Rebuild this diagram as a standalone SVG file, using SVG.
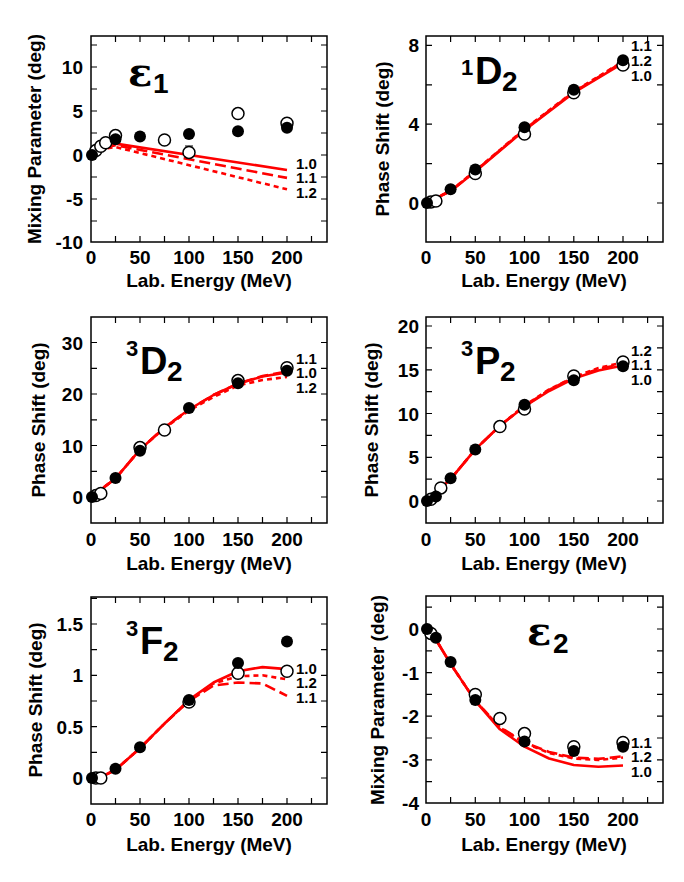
<svg xmlns="http://www.w3.org/2000/svg" width="684" height="882" viewBox="0 0 684 882">
<style>
.fr{fill:none;stroke:#000;stroke-width:1.5}
.tk{fill:none;stroke:#000;stroke-width:1.2}
.c{fill:none;stroke:#f00;stroke-width:2.6;stroke-linejoin:round}
.ld{fill:none;stroke:#f00;stroke-width:2.6;stroke-dasharray:11,5}
.sd{fill:none;stroke:#f00;stroke-width:2.6;stroke-dasharray:5,4}
.o{fill:#fff;stroke:#000;stroke-width:1.5}
.f{fill:#000}
text{font-family:"Liberation Sans",Arial,sans-serif;font-weight:bold;fill:#000}
.tx{font-size:19px;text-anchor:middle}
.ty{font-size:19px;text-anchor:end}
.ax{font-size:19px;text-anchor:middle}
.cl{font-size:15px}
.pl{font-size:38px}
.ps{font-size:22px}
.sb{font-size:28px}
.eps{font-family:"DejaVu Serif","Liberation Serif",serif;font-weight:bold;font-size:40px}
</style>
<rect width="684" height="882" fill="#fff"/>

<g id="panel-eps1">
<rect class="fr" x="91" y="36" width="236" height="206"/>
<path class="tk" d="M115.5,242v-6M140,242v-6M164.5,242v-6M189,242v-6M213.5,242v-6M238,242v-6M262.5,242v-6M287,242v-6M311.5,242v-6M115.5,36v6M140,36v6M164.5,36v6M189,36v6M213.5,36v6M238,36v6M262.5,36v6M287,36v6M311.5,36v6M91,221h6M91,199h6M91,177h6M91,155h6M91,133h6M91,111h6M91,89h6M91,67h6M91,45h6M327,221h-6M327,199h-6M327,177h-6M327,155h-6M327,133h-6M327,111h-6M327,89h-6M327,67h-6M327,45h-6"/>
<g class="tx"><text x="91" y="264">0</text><text x="140" y="264">50</text><text x="189" y="264">100</text><text x="238" y="264">150</text><text x="287" y="264">200</text></g>
<g class="ty"><text x="83" y="74">10</text><text x="83" y="118">5</text><text x="83" y="162">0</text><text x="83" y="206">-5</text><text x="83" y="249">-10</text></g>
<text class="ax" x="209" y="287">Lab. Energy (MeV)</text>
<text class="ax" transform="translate(41,139) rotate(-90)">Mixing Parameter (deg)</text>
<text class="eps" x="128" y="86">ε</text><text class="sb" x="153" y="93">1</text>
<path class="c" d="M91,155L103,147L115.5,143.6L287,170"/>
<path class="ld" d="M91,155L103,148L115.5,145.3L287,177.9"/>
<path class="sd" d="M91,155L103,149L115.5,147L287,189.3"/>
<text class="cl" x="296" y="169">1.0</text><text class="cl" x="296" y="183">1.1</text><text class="cl" x="296" y="198">1.2</text>
<path class="tk" d="M189,146v6M185,146h8"/>
<circle class="o" cx="95.9" cy="150.6" r="6"/><circle class="o" cx="100.8" cy="146.2" r="6"/><circle class="o" cx="105.7" cy="142.7" r="6"/><circle class="o" cx="115.5" cy="135.6" r="6"/><circle class="o" cx="164.5" cy="140" r="6"/><circle class="o" cx="189" cy="152.4" r="6"/><circle class="o" cx="238" cy="113.6" r="6"/><circle class="o" cx="287" cy="123.3" r="6"/>
<circle class="f" cx="92" cy="155" r="6"/><circle class="f" cx="115.5" cy="139.2" r="6"/><circle class="f" cx="140" cy="136.5" r="6"/><circle class="f" cx="189" cy="133.9" r="6"/><circle class="f" cx="238" cy="131.2" r="6"/><circle class="f" cx="287" cy="127.7" r="6"/>
</g>

<g id="panel-1D2">
<rect class="fr" x="426" y="36" width="237" height="206"/>
<path class="tk" d="M450.6,242v-6M475.3,242v-6M499.9,242v-6M524.5,242v-6M549.1,242v-6M573.8,242v-6M598.4,242v-6M623,242v-6M647.6,242v-6M450.6,36v6M475.3,36v6M499.9,36v6M524.5,36v6M549.1,36v6M573.8,36v6M598.4,36v6M623,36v6M647.6,36v6M426,203h6M426,163.6h6M426,124.2h6M426,84.8h6M426,45.4h6M663,203h-6M663,163.6h-6M663,124.2h-6M663,84.8h-6M663,45.4h-6"/>
<g class="tx"><text x="426" y="264">0</text><text x="475.3" y="264">50</text><text x="524.5" y="264">100</text><text x="573.8" y="264">150</text><text x="623" y="264">200</text></g>
<g class="ty"><text x="419" y="52">8</text><text x="419" y="131">4</text><text x="419" y="210">0</text></g>
<text class="ax" x="544" y="287">Lab. Energy (MeV)</text>
<text class="ax" transform="translate(389,139) rotate(-90)">Phase Shift (deg)</text>
<text class="ps" x="461" y="75">1</text><text class="pl" x="475" y="84">D</text><text class="sb" x="502" y="91">2</text>
<path class="c" d="M426,203L450.6,191.2L475.3,171.5L524.5,130.1L573.8,92.7L623,63.1"/>
<path class="ld" d="M426,203L450.6,191L475.3,171L524.5,129.5L573.8,92L623,62"/>
<path class="sd" d="M426,203L450.6,190.8L475.3,170.8L524.5,129L573.8,91.5L623,61.5"/>
<text class="cl" x="631" y="51">1.1</text><text class="cl" x="631" y="66">1.2</text><text class="cl" x="631" y="81">1.0</text>
<circle class="o" cx="430.9" cy="202" r="6"/><circle class="o" cx="435.9" cy="201" r="6"/><circle class="o" cx="475.3" cy="173.5" r="6"/><circle class="o" cx="524.5" cy="134" r="6"/><circle class="o" cx="573.8" cy="92.7" r="6"/><circle class="o" cx="623" cy="65.1" r="6"/>
<circle class="f" cx="427" cy="203" r="6"/><circle class="f" cx="450.6" cy="189.2" r="6"/><circle class="f" cx="475.3" cy="169.5" r="6"/><circle class="f" cx="524.5" cy="127.2" r="6"/><circle class="f" cx="573.8" cy="89.7" r="6"/><circle class="f" cx="623" cy="60.2" r="6"/>
</g>

<g id="panel-3D2">
<rect class="fr" x="91" y="317" width="236" height="206"/>
<path class="tk" d="M115.5,523v-6M140,523v-6M164.5,523v-6M189,523v-6M213.5,523v-6M238,523v-6M262.5,523v-6M287,523v-6M311.5,523v-6M115.5,317v6M140,317v6M164.5,317v6M189,317v6M213.5,317v6M238,317v6M262.5,317v6M287,317v6M311.5,317v6M91,497h6M91,471.3h6M91,445.5h6M91,419.8h6M91,394h6M91,368.3h6M91,342.5h6M327,497h-6M327,471.3h-6M327,445.5h-6M327,419.8h-6M327,394h-6M327,368.3h-6M327,342.5h-6"/>
<g class="tx"><text x="91" y="546">0</text><text x="140" y="546">50</text><text x="189" y="546">100</text><text x="238" y="546">150</text><text x="287" y="546">200</text></g>
<g class="ty"><text x="83" y="350">30</text><text x="83" y="401">20</text><text x="83" y="453">10</text><text x="83" y="504">0</text></g>
<text class="ax" x="209" y="570">Lab. Energy (MeV)</text>
<text class="ax" transform="translate(45,420) rotate(-90)">Phase Shift (deg)</text>
<text class="ps" x="126" y="356">3</text><text class="pl" x="140" y="374">D</text><text class="sb" x="167" y="381">2</text>
<path class="c" d="M91,497L115.5,478.5L140,449.6L164.5,427.5L189,409.5L213.5,395L238,383.7L262.5,376.5L287,372.4"/>
<path class="ld" d="M91,497L115.5,478.5L140,449.6L164.5,427.5L189,409.5L213.5,395L238,383.5L262.5,376L287,371.5"/>
<path class="sd" d="M91,497L115.5,478.5L140,449.6L164.5,428L189,410.5L213.5,397L238,385.5L262.5,380L287,377"/>
<text class="cl" x="296" y="364">1.1</text><text class="cl" x="296" y="378">1.0</text><text class="cl" x="296" y="393">1.2</text>
<circle class="o" cx="95.9" cy="495.5" r="6"/><circle class="o" cx="100.8" cy="493.4" r="6"/><circle class="o" cx="140" cy="447.6" r="6"/><circle class="o" cx="164.5" cy="430" r="6"/><circle class="o" cx="238" cy="380.6" r="6"/><circle class="o" cx="287" cy="367.7" r="6"/>
<circle class="f" cx="92" cy="497" r="6"/><circle class="f" cx="115.5" cy="478" r="6"/><circle class="f" cx="140" cy="450.7" r="6"/><circle class="f" cx="189" cy="407.9" r="6"/><circle class="f" cx="238" cy="383.2" r="6"/><circle class="f" cx="287" cy="370.8" r="6"/>
</g>

<g id="panel-3P2">
<rect class="fr" x="426" y="317" width="237" height="206"/>
<path class="tk" d="M450.6,523v-6M475.3,523v-6M499.9,523v-6M524.5,523v-6M549.1,523v-6M573.8,523v-6M598.4,523v-6M623,523v-6M647.6,523v-6M450.6,317v6M475.3,317v6M499.9,317v6M524.5,317v6M549.1,317v6M573.8,317v6M598.4,317v6M623,317v6M647.6,317v6M426,501h6M426,479.1h6M426,457.3h6M426,435.4h6M426,413.5h6M426,391.6h6M426,369.8h6M426,347.9h6M426,326h6M663,501h-6M663,479.1h-6M663,457.3h-6M663,435.4h-6M663,413.5h-6M663,391.6h-6M663,369.8h-6M663,347.9h-6M663,326h-6"/>
<g class="tx"><text x="426" y="546">0</text><text x="475.3" y="546">50</text><text x="524.5" y="546">100</text><text x="573.8" y="546">150</text><text x="623" y="546">200</text></g>
<g class="ty"><text x="419" y="333">20</text><text x="419" y="377">15</text><text x="419" y="421">10</text><text x="419" y="464">5</text><text x="419" y="508">0</text></g>
<text class="ax" x="544" y="570">Lab. Energy (MeV)</text>
<text class="ax" transform="translate(378,420) rotate(-90)">Phase Shift (deg)</text>
<text class="ps" x="461" y="356">3</text><text class="pl" x="475" y="374">P</text><text class="sb" x="500" y="381">2</text>
<path class="c" d="M426,501L450.6,479.1L475.3,449.4L499.9,425.8L524.5,406.5L549.1,391L573.8,378.5L598.4,370.5L623,365.4"/>
<path class="ld" d="M426,501L450.6,479.1L475.3,449.4L499.9,425.8L524.5,406L549.1,390L573.8,377.5L598.4,369L623,364"/>
<path class="sd" d="M426,501L450.6,479.1L475.3,449.4L499.9,425.8L524.5,405.5L549.1,389.5L573.8,377L598.4,368L623,362.5"/>
<text class="cl" x="631" y="356">1.2</text><text class="cl" x="631" y="370">1.1</text><text class="cl" x="631" y="385">1.0</text>
<circle class="o" cx="430.9" cy="499.3" r="6"/><circle class="o" cx="440.8" cy="487.9" r="6"/><circle class="o" cx="499.9" cy="426.6" r="6"/><circle class="o" cx="524.5" cy="409.1" r="6"/><circle class="o" cx="573.8" cy="375.9" r="6"/><circle class="o" cx="623" cy="361.9" r="6"/>
<circle class="f" cx="427" cy="501" r="6"/><circle class="f" cx="435.9" cy="496.6" r="6"/><circle class="f" cx="450.6" cy="478.3" r="6"/><circle class="f" cx="475.3" cy="449.4" r="6"/><circle class="f" cx="524.5" cy="404.8" r="6"/><circle class="f" cx="573.8" cy="380.3" r="6"/><circle class="f" cx="623" cy="366.3" r="6"/>
</g>

<g id="panel-3F2">
<rect class="fr" x="91" y="597" width="236" height="207"/>
<path class="tk" d="M115.5,804v-6M140,804v-6M164.5,804v-6M189,804v-6M213.5,804v-6M238,804v-6M262.5,804v-6M287,804v-6M311.5,804v-6M115.5,597v6M140,597v6M164.5,597v6M189,597v6M213.5,597v6M238,597v6M262.5,597v6M287,597v6M311.5,597v6M91,778h6M91,752.3h6M91,726.7h6M91,701h6M91,675.3h6M91,649.6h6M91,624h6M91,598.3h6M327,778h-6M327,752.3h-6M327,726.7h-6M327,701h-6M327,675.3h-6M327,649.6h-6M327,624h-6"/>
<g class="tx"><text x="91" y="826">0</text><text x="140" y="826">50</text><text x="189" y="826">100</text><text x="238" y="826">150</text><text x="287" y="826">200</text></g>
<g class="ty"><text x="83" y="631">1.5</text><text x="83" y="682">1</text><text x="83" y="734">0.5</text><text x="83" y="785">0</text></g>
<text class="ax" x="209" y="851">Lab. Energy (MeV)</text>
<text class="ax" transform="translate(42,700) rotate(-90)">Phase Shift (deg)</text>
<text class="ps" x="126" y="636">3</text><text class="pl" x="140" y="654">F</text><text class="sb" x="163" y="661">2</text>
<path class="c" d="M91,778L103,776L115.5,769.8L140,748.2L164.5,723.6L189,699.9L213.5,682.5L238,671.2L262.5,667.1L287,669.1"/>
<path class="sd" d="M91,778L103,776L115.5,769.8L140,748.2L164.5,723.6L189,700.5L213.5,683.5L238,676.3L262.5,675.3L287,679.4"/>
<path class="ld" d="M91,778L103,776L115.5,769.8L140,748.2L164.5,723.6L189,701L213.5,685.6L238,682.5L262.5,683.5L287,695.8"/>
<text class="cl" x="296" y="674">1.0</text><text class="cl" x="296" y="688">1.2</text><text class="cl" x="296" y="703">1.1</text>
<circle class="o" cx="95.9" cy="778" r="6"/><circle class="o" cx="100.8" cy="778" r="6"/><circle class="o" cx="189" cy="702" r="6"/><circle class="o" cx="238" cy="673.2" r="6"/><circle class="o" cx="287" cy="671.2" r="6"/>
<circle class="f" cx="92" cy="778" r="6"/><circle class="f" cx="115.5" cy="768.8" r="6"/><circle class="f" cx="140" cy="747.2" r="6"/><circle class="f" cx="189" cy="700" r="6"/><circle class="f" cx="238" cy="663" r="6"/><circle class="f" cx="287" cy="641.4" r="6"/>
</g>

<g id="panel-eps2">
<rect class="fr" x="426" y="596" width="237" height="207"/>
<path class="tk" d="M450.6,803v-6M475.3,803v-6M499.9,803v-6M524.5,803v-6M549.1,803v-6M573.8,803v-6M598.4,803v-6M623,803v-6M647.6,803v-6M450.6,596v6M475.3,596v6M499.9,596v6M524.5,596v6M549.1,596v6M573.8,596v6M598.4,596v6M623,596v6M647.6,596v6M426,781.6h6M426,759.8h6M426,738h6M426,716.2h6M426,694.4h6M426,672.6h6M426,650.8h6M426,629h6M426,607.2h6M663,781.6h-6M663,759.8h-6M663,738h-6M663,716.2h-6M663,694.4h-6M663,672.6h-6M663,650.8h-6M663,629h-6M663,607.2h-6"/>
<g class="tx"><text x="426" y="826">0</text><text x="475.3" y="826">50</text><text x="524.5" y="826">100</text><text x="573.8" y="826">150</text><text x="623" y="826">200</text></g>
<g class="ty"><text x="419" y="636">0</text><text x="419" y="680">-1</text><text x="419" y="723">-2</text><text x="419" y="767">-3</text><text x="419" y="810">-4</text></g>
<text class="ax" x="544" y="851">Lab. Energy (MeV)</text>
<text class="ax" transform="translate(384,700) rotate(-90)">Mixing Parameter (deg)</text>
<text class="eps" x="527" y="645">ε</text><text class="sb" x="553" y="653">2</text>
<path class="c" d="M426,629L438,643L450.6,663.9L475.3,700.9L499.9,729.3L524.5,746.7L549.1,758.5L573.8,765L598.4,766.8L623,765.5"/>
<path class="ld" d="M426,629L438,643L450.6,663.9L475.3,700.9L499.9,727.1L524.5,742.4L549.1,752L573.8,757.6L598.4,758.9L623,756.3"/>
<path class="sd" d="M426,629L438,643L450.6,663.9L475.3,700.9L499.9,727.5L524.5,743L549.1,753L573.8,758.5L598.4,760L623,757.5"/>
<text class="cl" x="631" y="748">1.1</text><text class="cl" x="631" y="762">1.2</text><text class="cl" x="631" y="777">1.0</text>
<circle class="o" cx="430.9" cy="633.4" r="6"/><circle class="o" cx="475.3" cy="694.4" r="6"/><circle class="o" cx="499.9" cy="718.4" r="6"/><circle class="o" cx="524.5" cy="733.6" r="6"/><circle class="o" cx="573.8" cy="746.7" r="6"/><circle class="o" cx="623" cy="742.4" r="6"/>
<circle class="f" cx="427" cy="629" r="6"/><circle class="f" cx="435.9" cy="637.7" r="6"/><circle class="f" cx="450.6" cy="662.1" r="6"/><circle class="f" cx="475.3" cy="700.1" r="6"/><circle class="f" cx="524.5" cy="741.5" r="6"/><circle class="f" cx="573.8" cy="751.1" r="6"/><circle class="f" cx="623" cy="746.7" r="6"/>
</g>
</svg>
